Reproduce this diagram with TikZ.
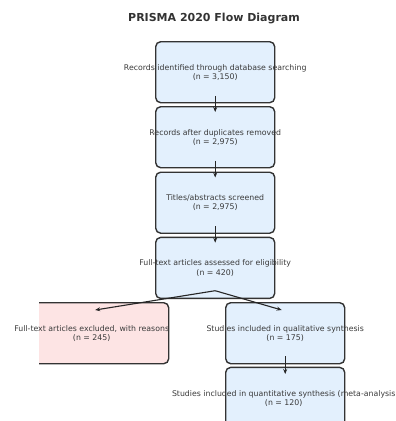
\documentclass[tikz,border=0pt]{standalone}
\usepackage{fontspec}
\setmainfont{DejaVu Sans}
\usetikzlibrary{arrows.meta,calc}
\definecolor{boxblue}{HTML}{E3F0FD}
\definecolor{boxpink}{HTML}{FDE4E4}
\definecolor{edgegray}{HTML}{333333}
\definecolor{txtgray}{HTML}{3A3A3A}
\begin{document}
\begin{tikzpicture}[x=1pt,y=-1pt,
  box/.style={draw=edgegray, line width=1.4pt, rounded corners=5pt,
    minimum width=119pt, minimum height=61pt, inner sep=0pt, anchor=north west},
  lbl/.style={font=\fontsize{7.8}{9.3}\selectfont, text=txtgray, align=center, inner sep=0.5pt},
  arr/.style={draw=black!85, line width=1.1pt, -{Stealth[length=5pt,width=4pt]}}]
\path[use as bounding box] (0,0) rectangle (396,421);
\node[font=\bfseries\fontsize{11}{13}\selectfont, text=edgegray] (title) at (214,19) {PRISMA 2020 Flow Diagram};
\begin{scope}
  \clip (39,0) rectangle (396,421);
  \node[box, fill=boxblue] (b1) at (155,41) {};
  \node[box, fill=boxblue] (b2) at (155,106) {};
  \node[box, fill=boxblue] (b3) at (155,171.5) {};
  \node[box, fill=boxblue] (b4) at (155,236.7) {};
  \node[box, fill=boxpink, minimum width=154pt] (ex) at (14,302) {};
  \node[box, fill=boxblue] (qual) at (225,302) {};
  \node[box, fill=boxblue] (quant) at (225,366.7) {};
\end{scope}
\node[lbl] (t1) at (b1.center) {Records identified through database searching\\(n = 3,150)};
\node[lbl] (t2) at (b2.center) {Records after duplicates removed\\(n = 2,975)};
\node[lbl] (t3) at (b3.center) {Titles/abstracts screened\\(n = 2,975)};
\node[lbl] (t4) at (b4.center) {Full-text articles assessed for eligibility\\(n = 420)};
\node[lbl] (tex) at (ex.center) {Full-text articles excluded, with reasons\\(n = 245)};
\node[lbl] (tqual) at (qual.center) {Studies included in qualitative synthesis\\(n = 175)};
\node[lbl] (tquant) at ($(quant.center)+(-1.5,0.5)$) {Studies included in quantitative synthesis (meta-analysis\\(n = 120)};
\draw[arr] ($(b1.south)+(0,-7.5)$) -- ($(b2.north)+(0,6)$);
\draw[arr] ($(b2.south)+(0,-7.5)$) -- ($(b3.north)+(0,6)$);
\draw[arr] ($(b3.south)+(0,-7.5)$) -- ($(b4.north)+(0,6)$);
\draw[arr] ($(b4.south)+(0,-8.4)$) -- ($(ex.north)+(3.5,8)$);
\draw[arr] ($(b4.south)+(0,-8.4)$) -- ($(qual.north)+(-3.5,8)$);
\draw[arr] ($(qual.south)+(0,-8)$) -- ($(quant.north)+(0,7.3)$);
\end{tikzpicture}
\end{document}
